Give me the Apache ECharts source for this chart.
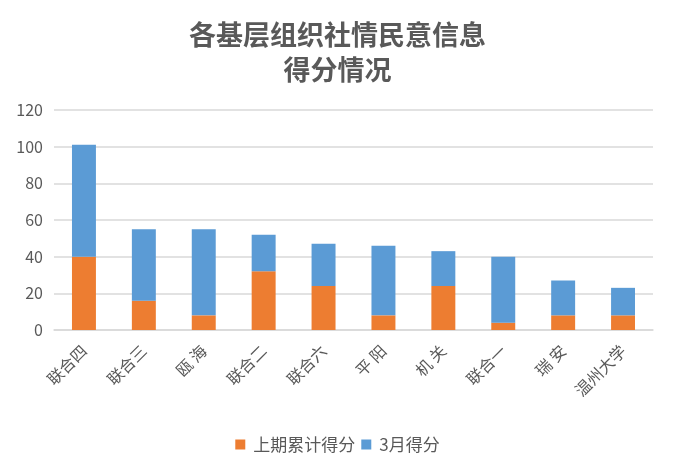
<!DOCTYPE html>
<html><head><meta charset="utf-8">
<script src="https://cdn.jsdelivr.net/npm/echarts@6/dist/echarts.min.js"></script>
<style>html,body{margin:0;padding:0;background:#fff}#c{width:675px;height:471px}</style>
</head><body><div id="c"></div>
<script>
var categories = ['联合四','联合三','瓯 海','联合二','联合六','平 阳','机 关','联合一','瑞 安','温州大学'];
var prevScores = [40,16,8,32,24,8,24,4,8,8];
var marchScores = [61,39,47,20,23,38,19,36,19,15];
var yTicks = [0,20,40,60,80,100,120];
var FONT = '"Noto Sans CJK SC", "Microsoft YaHei", sans-serif';
var chart = echarts.init(document.getElementById('c'));
chart.setOption({
  animation:false,
  textStyle:{fontFamily:FONT},
  title:{
    text:'各基层组织社情民意信息\n得分情况',
    left:'center', top:12,
    textStyle:{fontSize:27,fontWeight:'bold',color:'#595959',lineHeight:35,fontFamily:FONT}
  },
  legend:{
    top:431, left:'center', itemWidth:10, itemHeight:10, itemGap:6,
    icon:'rect',
    textStyle:{fontSize:17,color:'#595959',fontFamily:FONT,padding:[0,0,0,3]},
    data:['上期累计得分','3月得分']
  },
  grid:{left:54,right:22,top:110,bottom:141},
  xAxis:{
    type:'category', data:categories,
    axisLine:{lineStyle:{color:'#d9d9d9',width:1.5}},
    axisTick:{show:false},
    axisLabel:{rotate:45,interval:0,fontSize:16,color:'#595959',margin:18,fontFamily:FONT}
  },
  yAxis:{
    type:'value', min:yTicks[0], max:yTicks[yTicks.length-1], interval:20,
    axisLine:{show:false}, axisTick:{show:false},
    splitLine:{lineStyle:{color:'#d9d9d9',width:1.5}},
    axisLabel:{fontSize:16,color:'#595959',margin:11,fontFamily:FONT}
  },
  series:[
    {name:'上期累计得分',type:'bar',stack:'s',data:prevScores,barWidth:'40%',itemStyle:{color:'#ed7d31'}},
    {name:'3月得分',type:'bar',stack:'s',data:marchScores,barWidth:'40%',itemStyle:{color:'#5b9bd5'}}
  ]
});
</script></body></html>
